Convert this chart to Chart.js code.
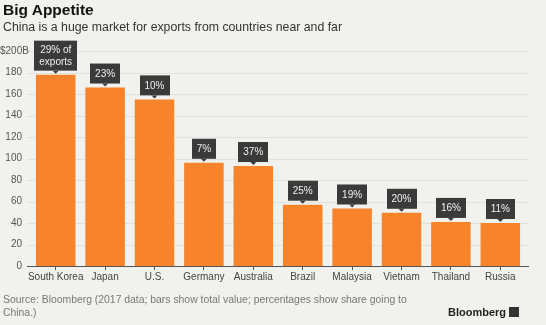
<!DOCTYPE html>
<html>
<head>
<meta charset="utf-8">
<script src="https://cdn.jsdelivr.net/npm/chart.js@4.4.1/dist/chart.umd.min.js"></script>
<style>
  html, body { margin: 0; padding: 0; background: #f1f1ed; }
  #wrap { position: relative; width: 546px; height: 325px; overflow: hidden; font-family: "Liberation Sans", Arial, sans-serif; }
  #c { position: absolute; left: 0; top: 0; }
  .t { position: absolute; white-space: nowrap; }
  #title { left: 3px; top: 1px; font-size: 15.5px; font-weight: bold; color: #111; }
  #sub { left: 3px; top: 20px; font-size: 12.3px; color: #333; }
  #src { left: 3px; top: 294px; font-size: 10.4px; color: #777; line-height: 12.5px; white-space: normal; width: 420px; }
  #brand { left: 448px; top: 306px; font-size: 11px; font-weight: bold; color: #222; }
  #brand span { display: inline-block; width: 10px; height: 10px; background: #333; margin-left: 3px; vertical-align: -1px; }
</style>
</head>
<body>
<div id="wrap">
  <canvas id="c" width="546" height="325"></canvas>
  <div class="t" id="title">Big Appetite</div>
  <div class="t" id="sub">China is a huge market for exports from countries near and far</div>
  <div class="t" id="src">Source: Bloomberg (2017 data; bars show total value; percentages show share going to China.)</div>
  <div class="t" id="brand">Bloomberg<span></span></div>
</div>
<script>
const countries = ['South Korea', 'Japan', 'U.S.', 'Germany', 'Australia', 'Brazil', 'Malaysia', 'Vietnam', 'Thailand', 'Russia'];
const exportsToChina = [178, 166, 155, 96, 93, 57, 53.5, 49.5, 41, 40];
const shareLabels = ['29% of\nexports', '23%', '10%', '7%', '37%', '25%', '19%', '20%', '16%', '11%'];
const yTicks = [0, 20, 40, 60, 80, 100, 120, 140, 160, 180, 200];
const topTickLabel = '$200B';

// gridlines a bit wider than the plot area, plus the dark baseline
const gridPlugin = {
    id: 'grid',
    beforeDatasetsDraw(chart) {
        const ctx = chart.ctx;
        const area = chart.chartArea;
        const y = chart.scales.y;
        ctx.save();
        ctx.lineWidth = 1;
        yTicks.forEach(function (v) {
            const py = Math.round(y.getPixelForValue(v)) + 0.5;
            ctx.strokeStyle = v === 0 ? '#555' : '#e2e2dd';
            ctx.beginPath();
            ctx.moveTo(area.left - 4, py);
            ctx.lineTo(area.right + 4, py);
            ctx.stroke();
        });
        // the top label sits flush left in the original
        ctx.fillStyle = '#555';
        ctx.font = '10px "Liberation Sans", Arial, sans-serif';
        ctx.textAlign = 'left';
        ctx.textBaseline = 'middle';
        ctx.fillText(topTickLabel, 0, y.getPixelForValue(200));
        ctx.restore();
    }
};

// dark label boxes with a small pointer above each bar
const boxPlugin = {
    id: 'boxes',
    afterDatasetsDraw(chart) {
        const ctx = chart.ctx;
        const meta = chart.getDatasetMeta(0);
        ctx.save();
        ctx.font = '10px "Liberation Sans", Arial, sans-serif';
        ctx.textAlign = 'center';
        ctx.textBaseline = 'middle';
        meta.data.forEach(function (bar, i) {
            const lines = shareLabels[i].split('\n');
            let w = 0;
            lines.forEach(function (l) { w = Math.max(w, ctx.measureText(l).width); });
            const bw = Math.round(w + 10);
            const lh = 12;
            const bh = lines.length * lh + (lines.length > 1 ? 6 : 8);
            const bottom = bar.y - 4;
            const left = Math.round(bar.x - bw / 2);
            ctx.fillStyle = '#3a3a3a';
            ctx.fillRect(left, bottom - bh, bw, bh);
            ctx.beginPath();
            ctx.moveTo(bar.x - 3, bottom);
            ctx.lineTo(bar.x + 3, bottom);
            ctx.lineTo(bar.x, bottom + 3);
            ctx.closePath();
            ctx.fill();
            ctx.fillStyle = '#f0f0f0';
            lines.forEach(function (l, j) {
                ctx.fillText(l, bar.x, bottom - bh + (bh - lines.length * lh) / 2 + lh * j + lh / 2 + 0.5);
            });
        });
        ctx.restore();
    }
};

new Chart(document.getElementById('c'), {
    type: 'bar',
    data: {
        labels: countries,
        datasets: [{
            data: exportsToChina,
            backgroundColor: '#f7842b',
            barPercentage: 0.8,
            categoryPercentage: 1.0
        }]
    },
    options: {
        responsive: false,
        animation: false,
        layout: { padding: { left: 0, right: 21, top: 51, bottom: 39 } },
        plugins: { legend: { display: false }, tooltip: { enabled: false } },
        scales: {
            x: {
                grid: { display: true, drawOnChartArea: false, drawTicks: true, tickLength: 4, offset: false, color: '#555' },
                border: { display: false },
                ticks: { color: '#444', font: { size: 10, family: '"Liberation Sans", Arial, sans-serif' }, padding: 1, maxRotation: 0, autoSkip: false },
                afterFit(scale) { scale.height = 20; }
            },
            y: {
                min: 0,
                max: 200,
                grid: { display: false, drawTicks: false },
                border: { display: false },
                afterBuildTicks(scale) { scale.ticks = yTicks.map(function (v) { return { value: v }; }); },
                ticks: {
                    color: '#555',
                    padding: 9,
                    font: { size: 10, family: '"Liberation Sans", Arial, sans-serif' },
                    callback: function (v) { return v === 200 ? '' : v; }
                },
                afterFit(scale) { scale.width = 31; }
            }
        }
    },
    plugins: [gridPlugin, boxPlugin]
});
</script>
</body>
</html>
